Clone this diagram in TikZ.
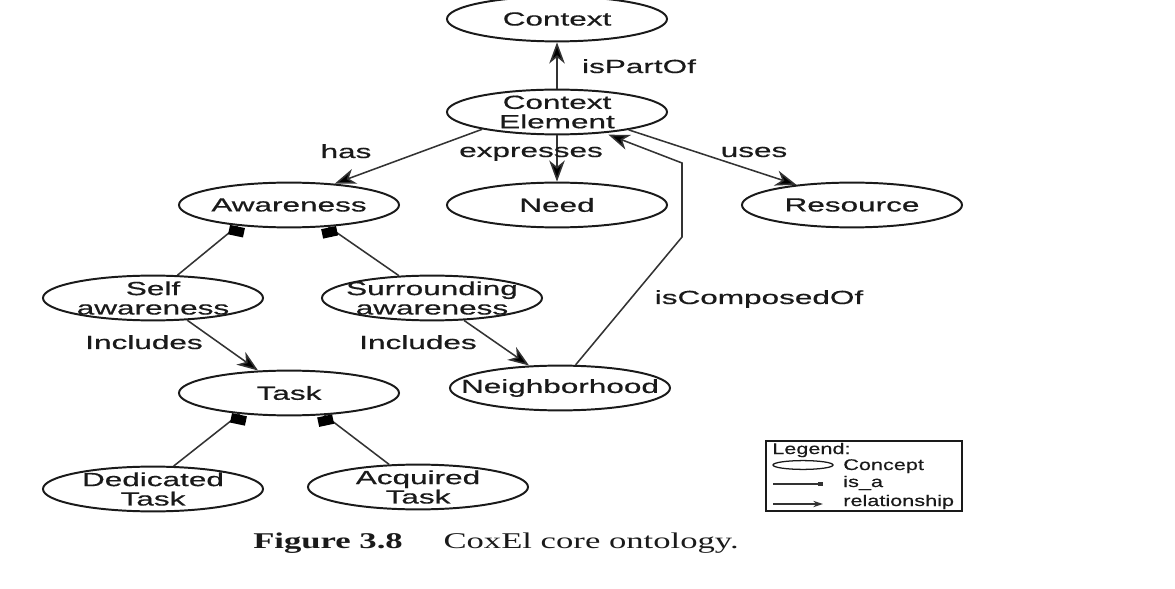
\documentclass[tikz,border=0pt]{standalone}
\usepackage{fontspec}
\setmainfont{Liberation Serif}
\newfontfamily\cfont[FakeStretch=1.66,FakeBold=0.6]{Liberation Sans}
\newfontfamily\legfont[FakeStretch=1.4,FakeBold=0.4]{Liberation Sans}
\newfontfamily\capfont[FakeStretch=1.54]{Liberation Serif}
\usetikzlibrary{shapes.geometric,arrows.meta}
\definecolor{ink}{HTML}{1A1A1A}
\definecolor{wire}{HTML}{333333}
\tikzset{
  concept/.style={ellipse, draw=ink, line width=1.4pt, minimum width=5.5cm, minimum height=1.12cm, inner sep=0pt},
  ctext/.style={align=center, text=ink, font=\cfont\fontsize{13.5}{13.8}\selectfont},
  rel/.style={text=ink, font=\cfont\fontsize{13.5}{13.8}\selectfont, anchor=base},
  relarrow/.style={draw=wire, line width=1.1pt, -{Stealth[length=15pt,width=11pt,inset=4.5pt,fill=black]}},
  isaline/.style={draw=wire, line width=1.1pt},
  isabox/.style={fill=black, minimum width=0.38cm, minimum height=0.24cm, inner sep=0pt, anchor=north},
  legtext/.style={text=ink, font=\legfont\fontsize{11}{12}\selectfont, anchor=base west, inner sep=0pt},
}
\begin{document}
\begin{tikzpicture}[x=0.025cm, y=-0.025cm]
\useasboundingbox (0,0) rectangle (1175,589);

% concepts
\node[concept, label={[ctext]center:Context}] (ctx) at (557,19) {};
\node[concept, label={[ctext]center:{Context\\Element}}] (ctxel) at (557,112) {};
\node[concept, label={[ctext]center:Awareness}] (aware) at (289,205) {};
\node[concept, label={[ctext]center:Need}] (need) at (557,205) {};
\node[concept, label={[ctext]center:Resource}] (res) at (852,205) {};
\node[concept, label={[ctext]center:{Self\\awareness}}] (self) at (153,298) {};
\node[concept, label={[ctext]center:{Surrounding\\awareness}}] (surr) at (432,298) {};
\node[concept, label={[ctext]center:Neighborhood}] (neigh) at (560,388) {};
\node[concept, label={[ctext]center:Task}] (task) at (289,393) {};
\node[concept, label={[ctext]center:{Dedicated\\Task}}] (ded) at (153,489) {};
\node[concept, label={[ctext]center:{Acquired\\Task}}] (acq) at (418,487) {};

\coordinate (bendlo) at (682,237);
\coordinate (bendhi) at (682,163);

% relationships
\path[relarrow] (ctxel) -- (ctx);
\path[relarrow] (ctxel) -- (need);
\path[relarrow] (ctxel.193) -- (aware.25);
\path[relarrow] (ctxel.-14) -- (res.160);
\path[relarrow] (self.-33) -- (task.144);
\path[relarrow] (surr.-35) -- (neigh.144);
\path[relarrow, shorten >=3pt] (neigh.56) -- (bendlo) -- (bendhi) -- (ctxel.-24);

\node[rel] (lpart) at (639,73) {isPartOf};
\node[rel] (lhas) at (346,158) {has};
\node[rel] (lexpr) at (531,157) {expresses};
\node[rel] (luses) at (754,157) {uses};
\node[rel] (lcomp) at (759,304) {isComposedOf};
\node[rel] (lincl) at (144,349) {Includes};
\node[rel] (lincr) at (418,349) {Includes};

% is_a links
\path[isaline] (aware.202) node[isabox, rotate=-12] (sqa) {} -- (self.43);
\path[isaline] (aware.-29) node[isabox, rotate=12] (sqb) {} -- (surr.146);
\path[isaline] (task.203) node[isabox, rotate=-12] (sqc) {} -- (ded.48);
\path[isaline] (task.-32) node[isabox, rotate=12] (sqd) {} -- (acq.142);

% legend
\draw[ink, line width=0.9pt] (766,441) rectangle (962,511);
\node[legtext] (lleg) at (772,454) {Legend:};
\draw[ink, line width=0.9pt] (803,465) ellipse [x radius=0.75cm, y radius=0.11cm];
\node[legtext] (lcon) at (843,470) {Concept};
\coordinate (isaa) at (773,484);
\coordinate (isab) at (823,484);
\draw[wire, line width=0.9pt, -{Square[length=3.5pt,width=3.5pt]}] (isaa) -- (isab);
\node[legtext] (lisa) at (843,487) {is\_a};
\coordinate (rela) at (773,504);
\coordinate (relb) at (823,504);
\draw[wire, line width=0.9pt, -{Stealth[length=7pt,width=4.5pt]}] (rela) -- (relb);
\node[legtext] (lrel) at (843,506) {relationship};

% caption
\node[anchor=base west, inner sep=0pt, text=ink, font=\capfont\fontsize{16}{18}\selectfont] (cap) at (253,548) {\textbf{Figure 3.8}\hspace{29pt}CoxEl core ontology.};
\end{tikzpicture}
\end{document}
